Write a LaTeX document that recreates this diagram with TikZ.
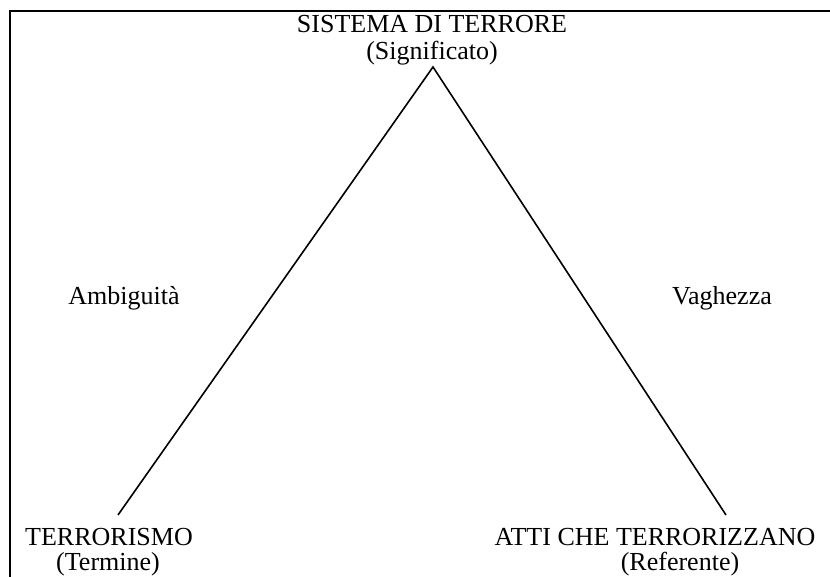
\documentclass[tikz,border=0pt]{standalone}
\usepackage{fontspec}
\setmainfont{Liberation Serif}
\begin{document}
\begin{tikzpicture}[x=1pt,y=1pt,
  lbl/.style={font=\fontsize{26}{29}\selectfont, inner sep=0pt, anchor=base},
  frame/.style={line width=2pt},
  edge/.style={line width=1.6pt}]
\useasboundingbox (0,0) rectangle (830,577);
\fill[white] (0,0) rectangle (830,577);
% frame (top and left)
\coordinate (ftr) at (830,566);
\coordinate (ftl) at (10,566);
\coordinate (fbl) at (10,0);
\draw[frame] (ftr) -- (ftl) -- (fbl);
% triangle vertices
\coordinate (apex) at (433,510);
\coordinate (lend) at (118,62);
\coordinate (rend) at (726,62);
\draw[edge] (lend) -- (apex) -- (rend);
% texts
\node[lbl] (sig1) at (432,544) {SISTEMA DI TERRORE};
\node[lbl] (sig2) at (432,517) {(Significato)};
\node[lbl] (amb) at (124,272) {Ambiguità};
\node[lbl] (vag) at (722,272) {Vaghezza};
\node[lbl] (ter1) at (109,31) {TERRORISMO};
\node[lbl] (ter2) at (108,6) {(Termine)};
\node[lbl] (ref1) at (655,31) {ATTI CHE TERRORIZZANO};
\node[lbl] (ref2) at (680,6) {(Referente)};
\end{tikzpicture}
\end{document}
